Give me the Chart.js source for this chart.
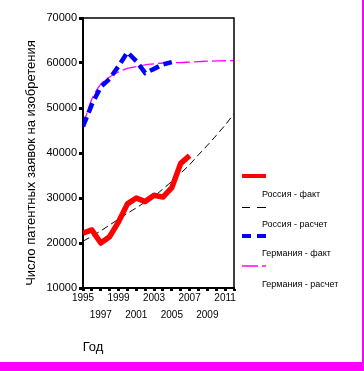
<!DOCTYPE html>
<html>
<head>
<meta charset="utf-8">
<script src="https://cdn.jsdelivr.net/npm/chart.js@4"></script>
<style>
  body { margin: 0; background: #fff; }
  canvas { display: block; }
</style>
</head>
<body>
<canvas id="chart" width="364" height="371"></canvas>
<script>
// Данные
const yearsFact = [1995, 1996, 1997, 1998, 1999, 2000, 2001, 2002, 2003, 2004, 2005, 2006, 2007];
const russiaFact = [22200, 22900, 20000, 21400, 24700, 28700, 30000, 29200, 30600, 30200, 32300, 37700, 39400];
const yearsGermanyFact = [1995, 1996, 1997, 1998, 1999, 2000, 2001, 2002, 2003, 2004, 2005];
const germanyFact = [45900, 50800, 54700, 56500, 59300, 62400, 60400, 57800, 58700, 59700, 60200];
const yearsCalc = [1995, 1996, 1997, 1998, 1999, 2000, 2001, 2002, 2003, 2004, 2005, 2006, 2007, 2008, 2009, 2010, 2011, 2012];
const russiaCalc = [20400, 21500, 22700, 24000, 25300, 26600, 27800, 29100, 30400, 32000, 33700, 35500, 37400, 39600, 41700, 43900, 46200, 48700];
const germanyCalc = [46000, 52000, 55300, 56900, 58000, 58800, 59200, 59600, 59800, 60000, 60050, 60100, 60200, 60300, 60400, 60450, 60500, 60550];
const xLabelsTop = [1995, 1999, 2003, 2007, 2011];
const xLabelsBottom = [1997, 2001, 2005, 2009];
const seriesNames = ["Россия - факт", "Россия - расчет", "Германия - факт", "Германия - расчет"];

const pts = (xs, ys) => xs.map((x, i) => ({ x: x, y: ys[i] }));
const FONT = "Arial, 'Liberation Sans', sans-serif";

// Подписи, легенда и рамки
const extras = {
    id: "extras",
    afterDraw(chart) {
        const ctx = chart.ctx;
        const a = chart.chartArea;
        ctx.save();
        // рамка графика
        ctx.strokeStyle = "#000";
        ctx.lineWidth = 1.5;
        ctx.beginPath();
        ctx.moveTo(a.left, a.top);
        ctx.lineTo(a.right, a.top);
        ctx.lineTo(a.right, a.bottom);
        ctx.stroke();

        // заголовок оси Y
        ctx.fillStyle = "#000";
        ctx.font = "13px " + FONT;
        ctx.textAlign = "center";
        ctx.textBaseline = "middle";
        ctx.translate(31, 163);
        ctx.rotate(-Math.PI / 2);
        ctx.fillText("Число патентных заявок на изобретения", 0, 0);
        ctx.setTransform(1, 0, 0, 1, 0, 0);

        // заголовок оси X
        ctx.textBaseline = "alphabetic";
        ctx.fillText("Год", 93, 351);

        // легенда
        const sw = [
            { y: 176, color: "#ff0000", width: 4, segs: [[242, 266]] },
            { y: 207.5, color: "#000000", width: 1, segs: [[242, 250], [257, 266]] },
            { y: 236, color: "#0000ff", width: 4, segs: [[242, 251], [257, 266]] },
            { y: 266, color: "#ff00ff", width: 1.5, segs: [[242, 258], [262, 266]] }
        ];
        const textY = [197, 227, 256, 287];
        sw.forEach((s, i) => {
            ctx.strokeStyle = s.color;
            ctx.lineWidth = s.width;
            s.segs.forEach(g => {
                ctx.beginPath();
                ctx.moveTo(g[0], s.y);
                ctx.lineTo(g[1], s.y);
                ctx.stroke();
            });
            ctx.fillStyle = "#000";
            ctx.font = "9px " + FONT;
            ctx.textAlign = "left";
            ctx.fillText(seriesNames[i], 262, textY[i]);
        });

        // розовые края
        ctx.fillStyle = "#ff00ff";
        ctx.fillRect(0, 362, 364, 9);
        ctx.fillRect(362, 0, 2, 371);
        ctx.restore();
    }
};

new Chart(document.getElementById("chart"), {
    type: "line",
    data: {
        datasets: [{
            label: seriesNames[0],
            data: pts(yearsFact, russiaFact),
            borderColor: "#ff0000",
            borderWidth: 5.5,
            borderJoinStyle: "round",
            pointRadius: 0,
            tension: 0
        }, {
            label: seriesNames[1],
            data: pts(yearsCalc, russiaCalc),
            borderColor: "#000000",
            borderWidth: 1,
            borderDash: [7, 4],
            pointRadius: 0,
            tension: 0.3
        }, {
            label: seriesNames[2],
            data: pts(yearsGermanyFact, germanyFact),
            borderColor: "#0000ff",
            borderWidth: 4.5,
            borderDash: [10, 5],
            pointRadius: 0,
            tension: 0
        }, {
            label: seriesNames[3],
            data: pts(yearsCalc, germanyCalc),
            borderColor: "#ff00ff",
            borderWidth: 1.3,
            borderDash: [14, 4],
            pointRadius: 0,
            tension: 0.3
        }]
    },
    options: {
        responsive: false,
        animation: false,
        devicePixelRatio: 1,
        layout: { padding: { top: 18, right: 130, bottom: 0, left: 0 } },
        plugins: { legend: { display: false }, tooltip: { enabled: false } },
        scales: {
            x: {
                type: "linear",
                min: 1995,
                max: 2012,
                afterFit: s => { s.height = 83; },
                grid: { drawOnChartArea: false, tickLength: 3, tickWidth: 3, tickColor: "#000" },
                border: { color: "#000", width: 2 },
                ticks: {
                    stepSize: 1,
                    autoSkip: false,
                    maxRotation: 0,
                    padding: -1,
                    color: "#000",
                    font: { family: FONT, size: 10, lineHeight: "17px" },
                    callback: v => xLabelsTop.includes(v) ? [String(v)] :
                        xLabelsBottom.includes(v) ? ["", String(v)] : ""
                }
            },
            y: {
                min: 10000,
                max: 70000,
                afterFit: s => { s.width = 83; },
                grid: { drawOnChartArea: false, tickLength: 4, tickWidth: 3, tickColor: "#000" },
                border: { color: "#000", width: 2 },
                ticks: {
                    stepSize: 10000,
                    padding: 2,
                    color: "#000",
                    font: { family: FONT, size: 11 },
                    callback: v => String(v)
                }
            }
        }
    },
    plugins: [extras]
});
</script>
</body>
</html>
